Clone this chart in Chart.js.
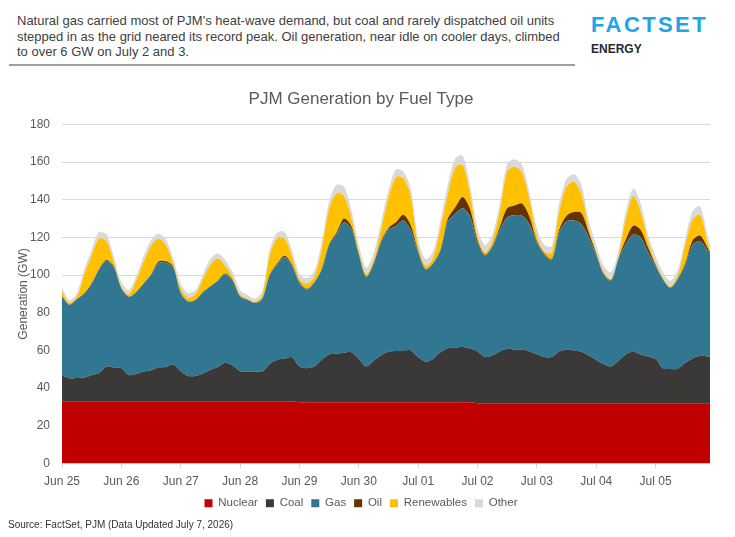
<!DOCTYPE html>
<html>
<head>
<meta charset="utf-8">
<script src="https://cdn.jsdelivr.net/npm/chart.js@4.4.1/dist/chart.umd.min.js"></script>
<style>
  body { margin: 0; background: #fff; }
  #wrap { position: relative; width: 735px; height: 537px; overflow: hidden; font-family: "Liberation Sans", Arial, sans-serif; }
  #headline { position: absolute; left: 17px; top: 13px; width: 560px; font-size: 13px; line-height: 15.5px; color: #404040; }
  #rule { position: absolute; left: 9px; top: 64px; width: 566px; height: 2px; background: #a0a0a0; }
  #logo { position: absolute; left: 591px; top: 12px; font-size: 22px; font-weight: bold; color: #1ea5e9; letter-spacing: 2.4px; }
  #logo2 { position: absolute; left: 591px; top: 42px; font-size: 12px; font-weight: bold; color: #1f2a36; }
  #source { position: absolute; left: 8px; top: 519px; font-size: 10px; color: #333; }
  canvas { position: absolute; left: 0; top: 0; }
</style>
</head>
<body>
<div id="wrap">
  <div id="headline">Natural gas carried most of PJM's heat-wave demand, but coal and rarely dispatched oil units<br>stepped in as the grid neared its record peak. Oil generation, near idle on cooler days, climbed<br>to over 6 GW on July 2 and 3.</div>
  <div id="rule"></div>
  <div id="logo">FACTSET</div>
  <div id="logo2">ENERGY</div>
  <canvas id="chart" width="735" height="537"></canvas>
  <div id="source">Source: FactSet, PJM (Data Updated July 7, 2026)</div>
</div>
<script>
// hours since Jun 25 00:00, every 3 hours
const hours = [
  0, 3, 6, 9, 12, 15, 18, 21,
  24, 27, 30, 33, 36, 39, 42, 45,
  48, 51, 54, 57, 60, 63, 66, 69,
  72, 75, 78, 81, 84, 87, 90, 93,
  96, 99, 102, 105, 108, 111, 114, 117,
  120, 123, 126, 129, 132, 135, 138, 141,
  144, 147, 150, 153, 156, 159, 162, 165,
  168, 171, 174, 177, 180, 183, 186, 189,
  192, 195, 198, 201, 204, 207, 210, 213,
  216, 219, 222, 225, 228, 231, 234, 237,
  240, 243, 246, 249, 252, 255, 258, 261, 262
];
const dayLabels = ['Jun 25', 'Jun 26', 'Jun 27', 'Jun 28', 'Jun 29', 'Jun 30', 'Jul 01', 'Jul 02', 'Jul 03', 'Jul 04', 'Jul 05'];

const nuclear = [
  33, 33, 33, 33, 33, 33, 33, 33,
  33, 33, 33, 33, 33, 33, 33, 33,
  33, 33, 33, 33, 33, 33, 33, 33,
  33, 33, 33, 33, 33, 33, 33, 33,
  32.5, 32.5, 32.5, 32.5, 32.5, 32.5, 32.5, 32.5,
  32.5, 32.5, 32.5, 32.5, 32.5, 32.5, 32.5, 32.5,
  32.5, 32.5, 32.5, 32.5, 32.5, 32.5, 32.5, 32.5,
  32, 32, 32, 32, 32, 32, 32, 32,
  32, 32, 32, 32, 32, 32, 32, 32,
  32, 32, 32, 32, 32, 32, 32, 32,
  32, 32, 32, 32, 32, 32, 32, 32, 32
];
const coal = [
  13.7, 12.2, 12.4, 12.7, 13.8, 15.0, 18.5, 18.0,
  17.6, 14.0, 14.5, 15.8, 16.5, 18.0, 18.2, 19.5,
  16.0, 13.5, 13.5, 14.8, 16.6, 18.2, 20.5, 19.0,
  16.0, 15.8, 15.8, 15.8, 20.0, 22.0, 22.7, 23.4,
  19.0, 18.1, 19.0, 22.5, 25.3, 25.7, 26.3, 26.5,
  23.0, 19.0, 22.0, 25.0, 26.8, 27.2, 27.5, 27.5,
  24.0, 21.5, 23.0, 26.5, 28.7, 29.0, 29.3, 28.5,
  27.5, 24.5, 25.5, 27.5, 28.9, 28.5, 28.5, 27.5,
  26.0, 24.5, 24.5, 27.4, 28.4, 28.0, 27.3, 25.3,
  23.0, 20.8, 19.5, 22.5, 26.0, 27.3, 25.8, 24.8,
  23.5, 18.5, 18.2, 18.3, 21.5, 23.8, 25.2, 24.8, 24.8
];
const gas = [
  42.0, 39.1, 41.8, 44.6, 48.7, 55.0, 56.0, 53.0,
  42.4, 41.5, 43.5, 46.7, 50.5, 55.4, 55.3, 51.5,
  41.5, 39.5, 40.3, 43.2, 44.4, 45.8, 47.0, 45.0,
  39.7, 38.1, 36.4, 38.7, 47.0, 50.5, 53.8, 48.6,
  44.5, 41.9, 44.5, 48.0, 58.2, 63.3, 69.2, 65.5,
  55.5, 47.5, 51.5, 60.0, 64.9, 66.3, 69.0, 64.0,
  55.5, 49.0, 50.5, 54.0, 67.3, 71.0, 73.7, 70.0,
  57.5, 53.8, 57.5, 64.5, 69.8, 71.3, 71.0, 67.5,
  59.0, 54.5, 51.5, 63.1, 68.1, 69.0, 67.7, 62.7,
  55.5, 47.5, 45.5, 54.0, 58.5, 62.2, 62.2, 55.2,
  49.5, 47.0, 43.0, 47.7, 52.0, 60.2, 60.8, 56.2, 54.2
];
const oil = [
  0.1, 0.1, 0.1, 0.1, 0.2, 0.3, 0.5, 0.5,
  0.1, 0.1, 0.1, 0.1, 0.3, 0.8, 0.8, 0.5,
  0.1, 0.1, 0.1, 0.1, 0.1, 0.2, 0.3, 0.3,
  0.1, 0.1, 0.1, 0.1, 0.3, 0.7, 0.8, 0.6,
  0.3, 0.2, 0.2, 0.3, 0.5, 1.0, 2.0, 1.5,
  0.3, 0.2, 0.3, 0.5, 0.8, 2.0, 3.0, 2.5,
  0.8, 0.3, 0.3, 0.5, 1.5, 3.5, 6.0, 4.0,
  1.5, 0.5, 0.5, 1.5, 4.8, 5.2, 6.5, 4.0,
  1.0, 0.5, 0.5, 1.5, 3.0, 4.5, 6.0, 2.5,
  1.0, 0.5, 0.3, 0.5, 2.5, 4.8, 4.0, 2.5,
  0.5, 0.3, 0.2, 0.2, 0.8, 2.5, 3.0, 1.5, 1.0
];
const renewables = [
  2.5, 0.9, 1.2, 10.1, 14.8, 16.2, 10.0, 2.5,
  0.9, 1.2, 5.9, 11.4, 15.2, 12.1, 8.7, 1.5,
  2.5, 1.9, 2.9, 6.9, 11.4, 11.6, 4.2, 1.7,
  1.0, 0.5, 0.6, 1.9, 10.2, 13.3, 9.2, 4.4,
  1.7, 2.8, 2.8, 10.7, 18.5, 21.0, 12.0, 4.5,
  1.7, 1.3, 1.7, 6.0, 16.0, 24.0, 19.5, 15.5,
  2.2, 1.7, 2.7, 11.5, 13.0, 21.0, 17.0, 8.0,
  2.0, 1.2, 2.5, 8.5, 19.5, 20.5, 16.5, 9.0,
  3.0, 1.0, 3.5, 9.5, 15.5, 16.0, 10.0, 2.5,
  1.0, 0.7, 0.7, 1.0, 11.0, 15.7, 9.5, 3.5,
  1.0, 0.7, 0.6, 1.8, 9.7, 11.0, 11.0, 3.0, 1.0
];
const other = [
  2.2, 1.5, 2.0, 2.5, 3.0, 3.5, 3.5, 2.5,
  2.5, 2.2, 2.5, 3.0, 3.0, 2.7, 3.0, 2.5,
  2.5, 2.5, 2.2, 2.5, 3.0, 2.7, 3.0, 2.5,
  2.2, 2.0, 1.6, 2.0, 3.0, 3.0, 3.5, 3.0,
  2.5, 3.0, 3.0, 3.5, 4.0, 4.5, 5.0, 4.0,
  3.0, 3.5, 3.5, 4.0, 4.0, 4.0, 3.5, 4.0,
  4.0, 3.5, 3.5, 4.0, 5.0, 5.0, 5.0, 4.5,
  4.0, 4.0, 3.5, 4.0, 4.0, 4.0, 4.0, 4.0,
  4.0, 3.5, 3.5, 4.5, 4.0, 4.0, 5.0, 4.0,
  3.5, 3.5, 3.5, 3.0, 4.0, 4.0, 4.5, 3.5,
  3.5, 3.0, 3.0, 3.0, 3.5, 4.5, 4.5, 3.5, 3.0
];

const seriesNames = ['Nuclear', 'Coal', 'Gas', 'Oil', 'Renewables', 'Other'];
const seriesValues = [nuclear, coal, gas, oil, renewables, other];
const colors = ['#c00000', '#3b3838', '#327791', '#663300', '#ffc000', '#d9d9d9'];

const textColor = '#595959';
const gridColor = '#d9d9d9';
const font = "'Liberation Sans', Arial, sans-serif";

const datasets = seriesNames.map((name, i) => ({
  label: name,
  data: seriesValues[i].map((v, j) => ({ x: hours[j], y: v })),
  backgroundColor: colors[i],
  borderColor: colors[i],
  borderWidth: 0,
  pointRadius: 0,
  tension: 0.3,
  fill: i === 0 ? 'origin' : '-1'
}));

new Chart(document.getElementById('chart'), {
  type: 'line',
  data: { datasets },
  options: {
    responsive: false,
    animation: false,
    layout: { padding: { top: 89, left: 12, right: 25, bottom: 18 } },
    plugins: {
      title: {
        display: true,
        text: 'PJM Generation by Fuel Type',
        color: textColor,
        font: { family: font, size: 17, weight: 'normal' },
        padding: { top: 0, bottom: 15 }
      },
      legend: {
        position: 'bottom',
        labels: {
          color: textColor,
          font: { family: font, size: 11.5 },
          boxWidth: 8,
          boxHeight: 8,
          padding: 8
        }
      },
      tooltip: { enabled: false }
    },
    scales: {
      x: {
        type: 'linear',
        min: 0,
        max: 262,
        afterBuildTicks: (scale) => {
          scale.ticks = dayLabels.map((_, i) => ({ value: i * 24 }));
        },
        ticks: {
          color: textColor,
          font: { family: font, size: 12 },
          maxRotation: 0,
          autoSkip: false,
          padding: 6,
          callback: (v) => dayLabels[v / 24]
        },
        grid: { drawOnChartArea: false, drawTicks: true, tickLength: 5, color: gridColor },
        border: { color: gridColor },
        afterFit: (scale) => { scale.height = 26; }
      },
      y: {
        stacked: true,
        min: 0,
        max: 180,
        ticks: { stepSize: 20, color: textColor, font: { family: font, size: 12 }, padding: 12 },
        grid: { color: gridColor, drawTicks: false },
        border: { display: false },
        title: { display: true, text: 'Generation (GW)', color: textColor, font: { family: font, size: 12 }, padding: 4 },
        afterFit: (scale) => { scale.width = 50; }
      }
    }
  }
});
</script>
</body>
</html>
